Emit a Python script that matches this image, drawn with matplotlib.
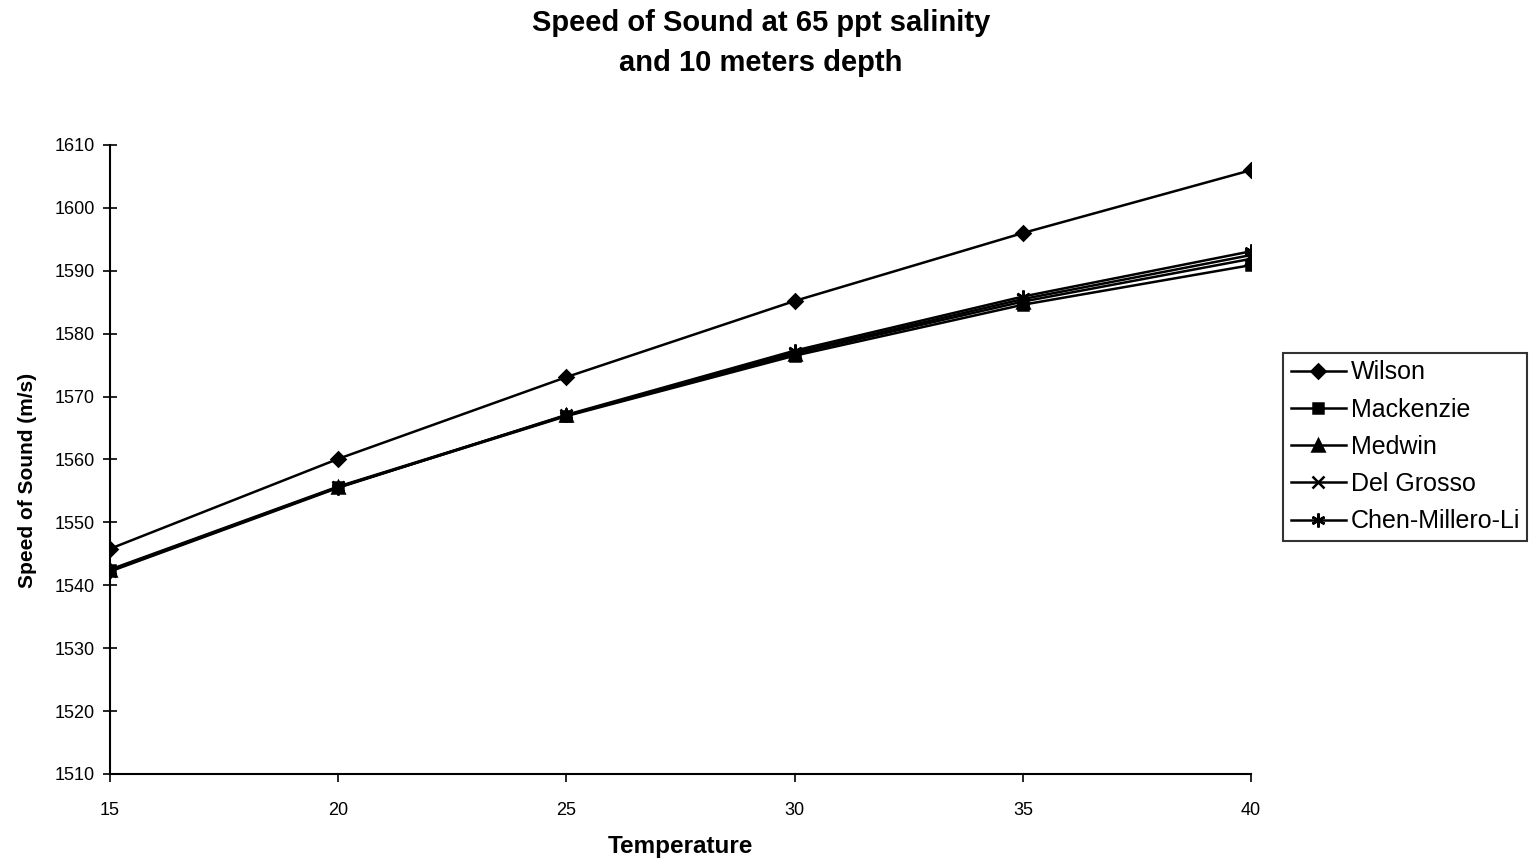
import matplotlib.pyplot as plt
import numpy as np

plt.rcParams['font.family'] = ['Liberation Sans', 'DejaVu Sans']

temperature = [15, 20, 25, 30, 35, 40]
wilson = [1545.8, 1560.1, 1573.1, 1585.2, 1596.0, 1606.0]
mackenzie = [1542.4, 1555.6, 1566.9, 1576.5, 1584.6, 1590.9]
medwin = [1542.5, 1555.7, 1567.0, 1576.8, 1585.1, 1591.9]
del_grosso = [1542.3, 1555.6, 1567.0, 1577.0, 1585.5, 1592.5]
chen_millero_li = [1542.2, 1555.5, 1567.1, 1577.3, 1585.9, 1593.1]

series = [
    ('Wilson', wilson, 'D', 7),
    ('Mackenzie', mackenzie, 's', 7),
    ('Medwin', medwin, '^', 8),
    ('Del Grosso', del_grosso, 'x', 8),
    ('Chen-Millero-Li', chen_millero_li, (6, 2, 0), 10),
]

fig = plt.figure(figsize=(15.37, 8.67), dpi=100)
ax = fig.add_axes([0.0716, 0.1073, 0.7424, 0.7255])

for name, vals, mk, ms in series:
    ax.plot(temperature, vals, color='black', linewidth=1.8, marker=mk,
            markersize=ms, markeredgewidth=1.8, label=name)

ax.set_xlim(15, 40)
ax.set_ylim(1510, 1610)
ax.set_xticks(temperature)
ax.set_yticks(np.arange(1510, 1611, 10))
ax.spines['top'].set_visible(False)
ax.spines['right'].set_visible(False)
ax.spines['left'].set_linewidth(1.5)
ax.spines['bottom'].set_linewidth(1.5)
ax.tick_params(axis='y', direction='inout', length=10, width=1.2, labelsize=13, pad=6)
ax.tick_params(axis='x', direction='out', length=6, width=1.2, labelsize=13, pad=14)

ax.set_xlabel('Temperature', fontsize=17.5, fontweight='bold', labelpad=12)
ax.set_ylabel('Speed of Sound (m/s)', fontsize=15, fontweight='bold')
ax.yaxis.set_label_coords(-0.064, 0.467)
fig.suptitle('Speed of Sound at 65 ppt salinity\nand 10 meters depth',
             fontsize=21, fontweight='bold', x=0.495, y=0.99, linespacing=1.55)

leg = ax.legend(loc='center left', bbox_to_anchor=(1.028, 0.52), borderaxespad=0,
                fontsize=18, frameon=True, fancybox=False, edgecolor='black',
                handlelength=2.2, handletextpad=0.2, borderpad=0.3,
                labelspacing=0.53)
leg.get_frame().set_linewidth(1.5)

fig.savefig('out.png', dpi=100)
